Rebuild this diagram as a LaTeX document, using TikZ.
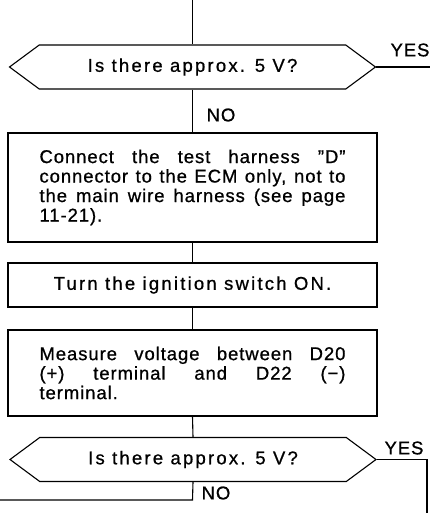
\documentclass[tikz,border=0pt]{standalone}
\usepackage{fontspec}
\setmainfont{Liberation Sans}[LetterSpace=5, FakeBold=0.8]
\newfontfamily\widefont{Liberation Sans}[LetterSpace=12, FakeBold=0.8]
\usetikzlibrary{shapes.symbols}

\newcommand{\jline}[1]{\makebox[306pt][s]{#1}}
\newcommand{\lline}[1]{\makebox[306pt][l]{#1}}

\begin{document}
\begin{tikzpicture}[x=1pt, y=-1pt, line width=1.1pt,
    every node/.style={font=\fontsize{18.5}{19.5}\selectfont},
    procbox/.style={draw, rectangle, minimum width=369pt, inner sep=0pt, align=left},
    decision/.style={draw, signal, signal to=west and east, signal pointer angle=73,
      minimum width=366pt, minimum height=44pt, inner sep=0pt,
      font=\fontsize{18.5}{19.5}\widefont}]
    \useasboundingbox (0,0) rectangle (430,513);

    % Caixas do fluxograma
    \node[decision] (dec1) at (192.5,67) {Is there approx. 5 V?};
    \node[procbox, minimum height=109pt] (box1) at (192.5,187.5)
      {\jline{Connect the test harness ''D''}\\
       \jline{connector to the ECM only, not to}\\
       \jline{the main wire harness (see page}\\
       \lline{11-21).}};
    \node[procbox, minimum height=44pt, font=\fontsize{18.5}{19.5}\widefont] (box2) at (192.5,285)
      {Turn the ignition switch ON.};
    \node[procbox, minimum height=86pt] (box3) at (192.5,373)
      {\jline{Measure voltage between D20}\\
       \jline{(+) terminal and D22 (−)}\\
       \lline{terminal.}};
    \node[decision] (dec2) at (193,459.5) {Is there approx. 5 V?};

    % Pontos auxiliares
    \coordinate (top) at (192.5,0);
    \coordinate (yesend1) at (430,67);
    \coordinate (yescorner) at (427,459.5);
    \coordinate (yesend2) at (427,513);
    \coordinate (nocorner) at (192.5,500);
    \coordinate (noend) at (0,500);

    % Ligações
    \draw (top) -- (dec1.north);
    \draw (dec1.east) -- (yesend1);
    \draw (dec1.south) -- (box1.north);
    \draw (box1.south) -- (box2.north);
    \draw (box2.south) -- (box3.north);
    \draw (box3.south) -- (dec2.north);
    \draw (dec2.east) -- (yescorner) -- (yesend2);
    \draw (dec2.south) -- (nocorner) -- (noend);

    % Rótulos
    \node (yes1) at (410,50) {YES};
    \node (no1) at (221,115) {NO};
    \node (yes2) at (404,448) {YES};
    \node (no2) at (216,493) {NO};
\end{tikzpicture}
\end{document}
